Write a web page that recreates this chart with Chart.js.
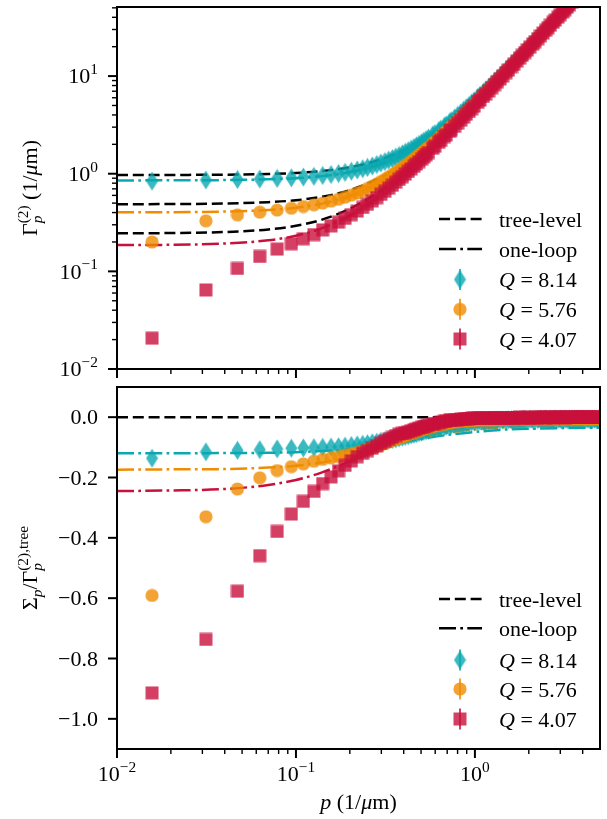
<!DOCTYPE html>
<html>
<head>
<meta charset="utf-8">
<script src="https://cdn.jsdelivr.net/npm/chart.js@4.4.1/dist/chart.umd.min.js"></script>
<style>
  html, body { margin: 0; padding: 0; background: #fff; }
  #wrap { position: relative; width: 607px; height: 819px; }
  #top { position: absolute; left: 0; top: 0; }
  #bot { position: absolute; left: 0; top: 378px; }
</style>
</head>
<body>
<div id="wrap">
  <canvas id="top" width="607" height="378"></canvas>
  <canvas id="bot" width="607" height="441"></canvas>
</div>
<script>
// momenta of the lattice data points (1/um)
const pData = [0.0157,0.0314,0.0471,0.0628,0.0785,0.0942,0.110,0.126,0.141,0.157,0.173,0.188,0.204,0.220,0.236,0.251,0.267,0.283,0.298,0.314,0.330,0.346,0.361,0.377,
  0.393,0.408,0.424,0.440,0.456,0.471,0.487,0.503,0.518,0.534,0.550,
  0.581,0.597,0.628,0.644,0.675,0.691,0.723,0.738,0.770,
  0.801,0.833,0.864,0.895,0.927,0.958,0.990,
  1.037,1.068,1.115,1.147,1.194,1.241,1.288,1.335,1.382,1.429,
  1.492,1.539,1.602,1.649,1.712,1.775,1.838,1.901,1.964,2.026,
  2.105,2.168,2.246,2.325,2.403,2.482,2.560,2.639,2.733,2.812,
  2.906,3.000,3.094,3.189,3.283,3.377,3.487,3.597,3.707,3.817,
  3.927,4.037,4.163,4.288,4.414,4.540,4.665,4.791,4.901];

// top panel: Gamma_p^(2) data
const gammaQ814 = [0.839,0.863,0.873,0.882,0.895,0.908,0.923,0.940,0.959,0.981,1.004,1.031,1.060,1.092,1.125,1.161,1.201,1.242,1.286,1.331,1.379,1.429,1.481,1.538,
  1.596,1.657,1.720,1.786,1.855,1.926,1.999,2.075,2.153,2.233,2.316,
  2.487,2.577,2.763,2.859,3.060,3.163,3.380,3.490,3.719,
  3.956,4.202,4.458,4.726,5.000,5.283,5.576,
  6.032,6.346,6.836,7.174,7.698,8.243,8.809,9.397,10.01,10.64,
  11.51,12.19,13.12,13.84,14.84,15.87,16.94,18.06,19.18,20.37,
  21.87,23.15,24.74,26.45,28.15,29.96,31.77,33.69,36.0,38.05,
  40.49,43.09,45.69,48.44,51.18,54.09,57.5,61.04,64.67,68.39,
  72.2,76.1,80.7,85.4,90.2,95.1,100.2,105.3,109.9];
const gammaQ576 = [0.200,0.329,0.379,0.404,0.425,0.443,0.461,0.481,0.501,0.524,0.548,0.575,0.604,0.635,0.669,0.706,0.745,0.786,0.831,0.877,0.926,0.978,1.032,1.088,
  1.147,1.209,1.273,1.339,1.407,1.478,1.552,1.628,1.706,1.787,1.869,
  2.042,2.131,2.318,2.415,2.616,2.720,2.934,3.045,3.274,
  3.510,3.756,4.011,4.277,4.551,4.832,5.124,
  5.578,5.894,6.385,6.725,7.250,7.793,8.357,8.951,9.547,10.18,
  11.05,11.73,12.67,13.38,14.39,15.42,16.49,17.58,18.74,19.91,
  21.44,22.72,24.31,25.99,27.75,29.51,31.38,33.28,35.59,37.65,
  40.14,42.70,45.34,48.06,50.85,53.72,57.15,60.68,64.31,68.04,
  71.86,75.78,80.37,85.08,89.91,94.85,99.91,105.07,109.69];
const gammaQ407 = [0.0207,0.0645,0.107,0.142,0.169,0.192,0.216,0.238,0.266,0.292,0.319,0.349,0.381,0.415,0.451,0.487,0.527,0.569,0.614,0.661,0.711,0.763,0.818,0.875,
  0.932,0.991,1.054,1.120,1.189,1.259,1.332,1.408,1.486,1.567,1.649,
  1.822,1.912,2.100,2.196,2.399,2.503,2.718,2.830,3.058,
  3.295,3.542,3.799,4.067,4.342,4.625,4.919,
  5.376,5.691,6.182,6.527,7.045,7.598,8.166,8.746,9.363,9.992,
  10.87,11.53,12.48,13.20,14.21,15.26,16.32,17.43,18.59,19.75,
  21.28,22.57,24.17,25.88,27.62,29.39,31.27,33.17,35.50,37.56,
  40.06,42.63,45.28,47.96,50.81,53.69,57.14,60.68,64.33,68.07,
  71.91,75.85,80.45,85.18,90.03,94.99,100.07,105.25,109.89];

// bottom panel: Sigma_p / Gamma_tree data
const sigmaQ814 = [-0.136,-0.115,-0.110,-0.108,-0.105,-0.103,-0.102,-0.101,-0.100,-0.099,-0.098,-0.096,-0.094,-0.092,-0.090,-0.088,-0.085,-0.083,-0.080,-0.078,-0.076,-0.074,-0.072,-0.069,
  -0.0665,-0.064,-0.0615,-0.059,-0.0565,-0.054,-0.0515,-0.049,-0.047,-0.045,-0.043,
  -0.040,-0.038,-0.035,-0.034,-0.031,-0.030,-0.027,-0.026,-0.024,
  -0.0225,-0.021,-0.0195,-0.018,-0.017,-0.016,-0.015,
  -0.014,-0.0135,-0.013,-0.0125,-0.012,-0.0115,-0.011,-0.0105,-0.010,-0.0095,
  -0.009,-0.0085,-0.008,-0.008,-0.008,-0.008,-0.008,-0.007,-0.008,-0.007,
  -0.008,-0.007,-0.008,-0.007,-0.008,-0.007,-0.008,-0.007,-0.008,-0.007,
  -0.008,-0.007,-0.008,-0.007,-0.008,-0.007,-0.007,-0.007,-0.007,-0.007,
  -0.007,-0.007,-0.007,-0.007,-0.007,-0.007,-0.007,-0.007,-0.007];
const sigmaQ576 = [-0.591,-0.330,-0.238,-0.201,-0.177,-0.164,-0.155,-0.146,-0.140,-0.135,-0.131,-0.126,-0.121,-0.117,-0.112,-0.107,-0.102,-0.097,-0.092,-0.087,-0.082,-0.077,-0.073,-0.069,
  -0.065,-0.061,-0.0575,-0.054,-0.051,-0.048,-0.045,-0.042,-0.0395,-0.037,-0.035,
  -0.031,-0.0295,-0.026,-0.0247,-0.022,-0.021,-0.019,-0.018,-0.016,
  -0.015,-0.014,-0.013,-0.012,-0.0115,-0.011,-0.0105,
  -0.010,-0.0095,-0.009,-0.0085,-0.008,-0.008,-0.008,-0.007,-0.008,-0.007,
  -0.007,-0.007,-0.006,-0.007,-0.006,-0.006,-0.006,-0.007,-0.006,-0.006,
  -0.006,-0.005,-0.006,-0.006,-0.005,-0.006,-0.005,-0.005,-0.006,-0.005,
  -0.005,-0.005,-0.005,-0.005,-0.005,-0.005,-0.005,-0.005,-0.005,-0.005,
  -0.005,-0.005,-0.005,-0.005,-0.005,-0.005,-0.005,-0.005,-0.005];
const sigmaQ407 = [-0.914,-0.737,-0.577,-0.459,-0.379,-0.321,-0.279,-0.246,-0.220,-0.198,-0.178,-0.160,-0.145,-0.131,-0.120,-0.111,-0.103,-0.095,-0.087,-0.080,-0.073,-0.067,-0.061,-0.056,
  -0.054,-0.052,-0.0485,-0.045,-0.042,-0.039,-0.0365,-0.034,-0.0315,-0.029,-0.027,
  -0.023,-0.0215,-0.018,-0.017,-0.014,-0.013,-0.011,-0.010,-0.009,
  -0.008,-0.007,-0.006,-0.005,-0.0045,-0.004,-0.0035,
  -0.003,-0.003,-0.003,-0.002,-0.003,-0.002,-0.002,-0.003,-0.002,-0.002,
  -0.002,-0.003,-0.002,-0.002,-0.002,-0.001,-0.002,-0.002,-0.001,-0.002,
  -0.002,-0.001,-0.002,-0.001,-0.001,-0.002,-0.001,-0.001,-0.002,-0.001,
  -0.001,-0.001,-0.001,-0.002,-0.001,-0.001,-0.001,-0.001,-0.001,-0.001,
  -0.001,-0.001,-0.001,-0.001,-0.001,-0.001,-0.001,-0.001,-0.001];

// analytic curves (tree-level / one-loop)
const pLine = [0.01,0.02,0.04,0.07,0.1,0.14,0.2,0.3,0.45,0.7,1,1.5,2.2,3.3,5];
const treeQ814 = [0.970,0.972,0.978,0.994,1.018,1.064,1.162,1.402,1.942,3.32,5.76,11.73,23.98,52.1,115.0];
const treeQ576 = [0.487,0.489,0.495,0.511,0.535,0.581,0.679,0.919,1.459,2.837,5.277,11.25,23.50,51.6,114.5];
const treeQ407 = [0.245,0.247,0.253,0.269,0.293,0.339,0.437,0.677,1.217,2.595,5.035,11.0,23.26,51.4,114.2];
const loopQ814 = [0.854,0.856,0.861,0.876,0.900,0.945,1.039,1.271,1.793,3.124,5.481,11.25,23.08,50.24,111.0];
const loopQ576 = [0.403,0.404,0.410,0.425,0.449,0.494,0.589,0.823,1.348,2.689,5.063,10.87,22.79,50.14,111.3];
const loopQ407 = [0.186,0.187,0.193,0.208,0.232,0.277,0.373,0.608,1.138,2.488,4.879,10.73,22.73,50.28,111.9];
const loopRatioQ814 = [-0.120,-0.120,-0.119,-0.118,-0.116,-0.112,-0.106,-0.094,-0.077,-0.059,-0.049,-0.041,-0.038,-0.036,-0.035];
const loopRatioQ576 = [-0.174,-0.173,-0.172,-0.167,-0.161,-0.150,-0.132,-0.105,-0.076,-0.052,-0.041,-0.033,-0.030,-0.028,-0.028];
const loopRatioQ407 = [-0.245,-0.243,-0.238,-0.225,-0.208,-0.183,-0.146,-0.101,-0.065,-0.041,-0.031,-0.025,-0.022,-0.021,-0.021];

// axis ticks
const xMajor = [0.01, 0.1, 1];
const xMajorExp = ["\u22122", "\u22121", "0"];
const yTopMajor = [0.01, 0.1, 1, 10];
const yTopMajorExp = ["\u22122", "\u22121", "0", "1"];
const yBotTicks = [0, -0.2, -0.4, -0.6, -0.8, -1.0];
const yBotLabels = ["0.0", "\u22120.2", "\u22120.4", "\u22120.6", "\u22120.8", "\u22121.0"];
const legendLabels = ["tree-level", "one-loop", "8.14", "5.76", "4.07"];

const FONT = '"Liberation Serif", "DejaVu Serif", serif';
const FS = 22;
const colCyan = "10,168,176", colOrange = "240,140,0", colRed = "200,16,60";

function minorTicks(majors, max) {
  const out = [];
  majors.forEach(d => { for (let k = 2; k <= 9; k++) if (k * d < max - 1e-9) out.push(k * d); });
  return out;
}
const xMinor = minorTicks(xMajor, 5);
const yTopMinor = minorTicks(yTopMajor, 51);

function markerImg(shape, rgb) {
  const c = document.createElement("canvas");
  const w = shape === "d" ? 13 : 14, h = shape === "d" ? 20 : 14;
  c.width = w; c.height = h;
  const g = c.getContext("2d");
  g.fillStyle = "rgba(" + rgb + ",0.8)";
  g.beginPath();
  if (shape === "d") {
    g.moveTo(w / 2, 0.5); g.lineTo(w - 0.5, h / 2); g.lineTo(w / 2, h - 0.5); g.lineTo(0.5, h / 2);
  } else if (shape === "o") {
    g.arc(w / 2, h / 2, 6.6, 0, Math.PI * 2);
  } else {
    g.rect(0.5, 0.5, w - 1, h - 1);
  }
  g.fill();
  return c;
}
const imgCyan = markerImg("d", colCyan);
const imgOrange = markerImg("o", colOrange);
const imgRed = markerImg("s", colRed);

function richLayout(ctx, items, size) {
  let x = 0, lastStart = 0;
  const out = [];
  for (const it of items) {
    const fs = it.pos ? size * 0.7 : size;
    const font = (it.it ? "italic " : "") + fs + "px " + FONT;
    ctx.font = font;
    const w = ctx.measureText(it.t).width;
    const sx = it.stack ? lastStart : x;
    x = Math.max(x, sx + w);
    if (!it.stack) lastStart = sx;
    out.push({ t: it.t, font, sx, dy: it.pos === 1 ? -size * 0.42 : it.pos === -1 ? size * 0.22 : 0 });
  }
  return { out, width: x };
}

function drawRich(ctx, items, x, y, align, rot) {
  ctx.save();
  ctx.translate(x, y);
  if (rot) ctx.rotate(-Math.PI / 2);
  const L = richLayout(ctx, items, FS);
  const x0 = align === "right" ? -L.width : align === "center" ? -L.width / 2 : 0;
  ctx.textBaseline = "alphabetic";
  ctx.textAlign = "left";
  ctx.fillStyle = "#000";
  for (const o of L.out) { ctx.font = o.font; ctx.fillText(o.t, x0 + o.sx, o.dy); }
  ctx.restore();
}

function tickLine(ctx, x1, y1, x2, y2, w) {
  ctx.lineWidth = w;
  ctx.beginPath(); ctx.moveTo(x1, y1); ctx.lineTo(x2, y2); ctx.stroke();
}

function drawLegend(ctx, rows) {
  const x1 = 439, x2 = 482, xm = 460, xt = 499;
  ctx.save();
  ctx.strokeStyle = "#000";
  ctx.setLineDash([11, 4.8]);
  tickLine(ctx, x1, rows[0], x2, rows[0], 2.5);
  ctx.setLineDash([17, 4.3, 2.7, 4.3]);
  tickLine(ctx, x1, rows[1], x2, rows[1], 2.5);
  ctx.setLineDash([]);
  [[imgCyan, colCyan], [imgOrange, colOrange], [imgRed, colRed]].forEach((m, i) => {
    const y = rows[i + 2];
    ctx.strokeStyle = "rgba(" + m[1] + ",0.8)";
    tickLine(ctx, xm, y - 10.5, xm, y + 10.5, 2);
    ctx.drawImage(m[0], xm - m[0].width / 2, y - m[0].height / 2);
  });
  ctx.restore();
  drawRich(ctx, [{ t: legendLabels[0] }], xt, rows[0] + 7.5, "left");
  drawRich(ctx, [{ t: legendLabels[1] }], xt, rows[1] + 7.5, "left");
  for (let i = 2; i < 5; i++) {
    drawRich(ctx, [{ t: "Q", it: 1 }, { t: " = " + legendLabels[i] }], xt, rows[i] + 7.5, "left");
  }
}

function decor(cfg) {
  return {
    id: "decor",
    afterDraw(chart) {
      const ctx = chart.ctx, a = chart.chartArea, xs = chart.scales.x, ys = chart.scales.y;
      ctx.save();
      ctx.strokeStyle = "#000";
      // x ticks (outward, bottom)
      xMinor.forEach(v => { const x = xs.getPixelForValue(v); tickLine(ctx, x, a.bottom, x, a.bottom + 5, 1.4); });
      xMajor.forEach(v => { const x = xs.getPixelForValue(v); tickLine(ctx, x, a.bottom, x, a.bottom + 9, 2); });
      // y ticks (outward, left)
      cfg.yMinor.forEach(v => { const y = ys.getPixelForValue(v); tickLine(ctx, a.left - 5, y, a.left, y, 1.4); });
      cfg.yMajor.forEach(v => { const y = ys.getPixelForValue(v); tickLine(ctx, a.left - 9, y, a.left, y, 2); });
      // frame
      ctx.lineWidth = 2;
      ctx.strokeRect(a.left, a.top, a.right - a.left, a.bottom - a.top);
      ctx.restore();

      cfg.yMajor.forEach((v, i) => {
        const y = ys.getPixelForValue(v) + 7.3;
        drawRich(ctx, cfg.yLabel(i), 98, y, "right");
      });
      if (cfg.xLabels) {
        xMajor.forEach((v, i) => {
          const x = xs.getPixelForValue(v);
          drawRich(ctx, [{ t: "10" }, { t: xMajorExp[i], pos: 1 }], x, a.bottom + 32, "center");
        });
        drawRich(ctx, [{ t: "p", it: 1 }, { t: " (1/" }, { t: "\u03bc", it: 1 }, { t: "m)" }], (a.left + a.right) / 2, a.bottom + 60, "center");
      }
      drawRich(ctx, cfg.title, 37, (a.top + a.bottom) / 2, "center", true);
      drawLegend(ctx, cfg.legendRows);
    }
  };
}

function markerSet(ys, img, order) {
  return {
    data: pData.map((p, i) => ({ x: p, y: ys[i] })),
    showLine: false, pointStyle: img, pointRadius: 7, pointHoverRadius: 7,
    pointBorderWidth: 0, order, clip: 0
  };
}
function lineSet(xs, ys, rgb, dash, order) {
  return {
    data: xs.map((p, i) => ({ x: p, y: ys[i] })),
    borderColor: "rgb(" + rgb + ")", borderWidth: 2.5, borderDash: dash,
    pointRadius: 0, cubicInterpolationMode: "monotone", fill: false, order, clip: 0
  };
}

const dashTree = [11, 4.8];
const dashLoop = [17, 4.3, 2.7, 4.3];

function baseOptions(yOpts, padTop, xHeight) {
  return {
    animation: false, responsive: false, devicePixelRatio: 1,
    layout: { padding: { top: padTop, right: 1, left: 0, bottom: 0 } },
    plugins: { legend: { display: false }, tooltip: { enabled: false } },
    events: [],
    scales: {
      x: {
        type: "logarithmic", min: 0.01, max: 5,
        ticks: { display: false }, grid: { display: false }, border: { display: false },
        afterFit: s => { s.height = xHeight; }
      },
      y: Object.assign({
        ticks: { display: false }, grid: { display: false }, border: { display: false },
        afterFit: s => { s.width = 117; }
      }, yOpts)
    }
  };
}

new Chart(document.getElementById("top"), {
  type: "line",
  data: {
    datasets: [
      markerSet(gammaQ407, imgRed, 1),
      markerSet(gammaQ576, imgOrange, 2),
      markerSet(gammaQ814, imgCyan, 3),
      lineSet(pLine, loopQ407, colRed, dashLoop, 4),
      lineSet(pLine, loopQ576, colOrange, dashLoop, 4),
      lineSet(pLine, loopQ814, colCyan, dashLoop, 4),
      lineSet(pLine, treeQ407, "0,0,0", dashTree, 5),
      lineSet(pLine, treeQ576, "0,0,0", dashTree, 5),
      lineSet(pLine, treeQ814, "0,0,0", dashTree, 5)
    ]
  },
  options: baseOptions({ type: "logarithmic", min: 0.01, max: 51 }, 7, 9),
  plugins: [decor({
    yMajor: yTopMajor, yMinor: yTopMinor,
    yLabel: i => [{ t: "10" }, { t: yTopMajorExp[i], pos: 1 }],
    xLabels: false,
    title: [{ t: "\u0393" }, { t: "p", it: 1, pos: -1 }, { t: "(2)", pos: 1, stack: 1 }, { t: " (1/" }, { t: "\u03bc", it: 1 }, { t: "m)" }],
    legendRows: [219, 249, 279.5, 309.3, 339]
  })]
});

new Chart(document.getElementById("bot"), {
  type: "line",
  data: {
    datasets: [
      markerSet(sigmaQ407, imgRed, 1),
      markerSet(sigmaQ576, imgOrange, 2),
      markerSet(sigmaQ814, imgCyan, 3),
      lineSet(pLine, loopRatioQ407, colRed, dashLoop, 4),
      lineSet(pLine, loopRatioQ576, colOrange, dashLoop, 4),
      lineSet(pLine, loopRatioQ814, colCyan, dashLoop, 4),
      lineSet([0.01, 5], [0, 0], "0,0,0", dashTree, 5)
    ]
  },
  options: baseOptions({ type: "linear", min: -1.1, max: 0.1 }, 9, 70),
  plugins: [decor({
    yMajor: yBotTicks, yMinor: [],
    yLabel: i => [{ t: yBotLabels[i] }],
    xLabels: true,
    title: [{ t: "\u03a3" }, { t: "p", it: 1, pos: -1 }, { t: "/\u0393" }, { t: "p", it: 1, pos: -1 }, { t: "(2),tree", pos: 1, stack: 1 }],
    legendRows: [221, 250.3, 282, 311, 341]
  })]
});
</script>
</body>
</html>
